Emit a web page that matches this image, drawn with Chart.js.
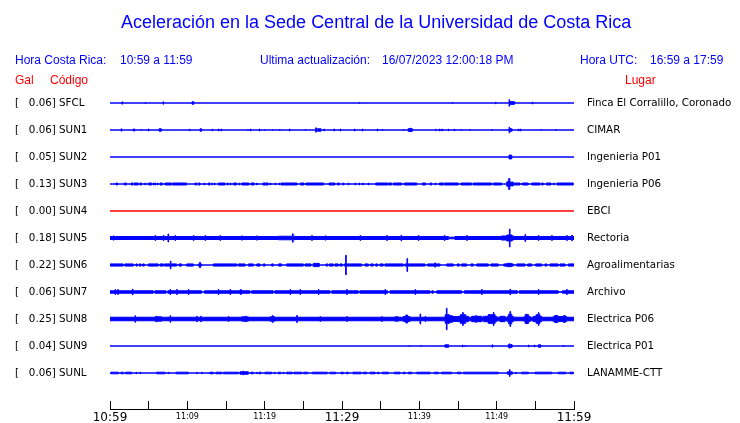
<!DOCTYPE html>
<html>
<head>
<meta charset="utf-8">
<script src="https://cdn.jsdelivr.net/npm/chart.js@4.4.0/dist/chart.umd.min.js"></script>
<style>
  body { margin: 0; background: #fff; }
  #wrap { position: relative; width: 740px; height: 423px; overflow: hidden; }
  #chart { position: absolute; left: 0; top: 0; }
  .t { position: absolute; white-space: pre; font-family: 'Liberation Sans', Arial, sans-serif; line-height: 1; }
  .blue { color: #0000ff; }
  .red { color: #ff0000; }
</style>
</head>
<body>
<div id="wrap">
  <canvas id="chart" width="740" height="423"></canvas>
  <div class="t blue" style="left:121px; top:13px; font-size:18px;">Aceleración en la Sede Central de la Universidad de Costa Rica</div>
  <div class="t blue" style="left:15px; top:54px; font-size:12px;">Hora Costa Rica:</div>
  <div class="t blue" style="left:120px; top:54px; font-size:12px;">10:59 a 11:59</div>
  <div class="t blue" style="left:260px; top:54px; font-size:12px;">Ultima actualización:</div>
  <div class="t blue" style="left:382px; top:54px; font-size:12px;">16/07/2023 12:00:18 PM</div>
  <div class="t blue" style="left:580px; top:54px; font-size:12px;">Hora UTC:</div>
  <div class="t blue" style="left:650px; top:54px; font-size:12px;">16:59 a 17:59</div>
  <div class="t red" style="left:15px; top:74px; font-size:12px;">Gal</div>
  <div class="t red" style="left:50px; top:74px; font-size:12px;">Código</div>
  <div class="t red" style="left:625px; top:74px; font-size:12px;">Lugar</div>
</div>
<script>
// minutos desde las 10:59 (hora Costa Rica)
const tickMinutes = [0, 5, 10, 15, 20, 25, 30, 35, 40, 45, 50, 55, 60];
const tickLabels = ['10:59', '', '11:09', '', '11:19', '', '11:29', '', '11:39', '', '11:49', '', '11:59'];

const codes = ['SFCL', 'SUN1', 'SUN2', 'SUN3', 'SUN4', 'SUN5', 'SUN6', 'SUN7', 'SUN8', 'SUN9', 'SUNL'];
const peakGal = ['0.06', '0.06', '0.05', '0.13', '0.00', '0.18', '0.22', '0.06', '0.25', '0.04', '0.06'];
const places = ['Finca El Corralillo, Coronado', 'CIMAR', 'Ingenieria P01', 'Ingenieria P06', 'EBCI',
  'Rectoria', 'Agroalimentarias', 'Archivo', 'Electrica P06', 'Electrica P01', 'LANAMME-CTT'];

// ruido de fondo (semi-amplitud, fraccion de la separacion entre trazas)
const noise = [0, 0, 0, 0, 0, 0.055, 0, 0.045, 0.065, 0, 0];

// eventos: [minuto, amp] = pico corto, [inicio, fin, amp] = tramo
const sfclEvents = [[1.55, 0.044], [4.55, 0.02], [6.85, 0.044], [10.6, 10.85, 0.044], [32.2, 0.02], [44.25, 0.02],
  [49.85, 0.03], [51.6, 0.12], [51.68, 52.3, 0.05], [54.6, 0.037]];
const sun1Events = [[1.45, 0.044], [3.0, 3.2, 0.037], [4.0, 0.019], [4.95, 0.037], [6.35, 6.65, 0.044], [10.25, 0.03],
  [11.65, 11.85, 0.044], [13.2, 0.03], [14.0, 0.037], [14.35, 0.037], [17.8, 0.019], [18.15, 0.037], [19.3, 0.037],
  [19.95, 0.019], [21.0, 0.019], [21.9, 0.019], [23.2, 0.037], [25.25, 0.019], [26.6, 0.08], [26.8, 27.3, 0.044],
  [27.65, 0.037], [28.95, 0.037], [29.75, 0.037], [31.6, 0.037], [32.6, 0.037], [34.55, 0.037], [35.2, 0.019],
  [37.9, 0.019], [38.55, 39.1, 0.05], [38.8, 0.07], [42.1, 0.03], [42.6, 0.037], [42.9, 0.037], [43.75, 0.03],
  [44.5, 0.03], [45.4, 0.019], [46.5, 0.019], [49.4, 0.019], [51.6, 0.105], [51.68, 52.0, 0.044], [52.8, 0.037],
  [53.05, 0.037], [55.7, 0.019], [57.6, 0.019]];
const sun2Events = [[51.6, 51.95, 0.07]];
const sun3Events = [[0.78, 0.99, .037], [1.85, 2.11, .037], [2.72, 2.97, .037], [3.1, 3.66, .037], [3.88, 4.09, .037],
  [4.5, .037], [4.96, 5.39, .037], [5.6, 5.73, .037], [5.8, .037], [6.1, .037], [6.47, 6.77, .037], [7.11, 7.97, .037],
  [8.1, 9.91, .037], [10.99, 11.21, .037], [11.42, 11.64, .037], [12.15, .037], [12.72, 12.93, .037], [13.15, .037],
  [13.5, .037], [14.01, 14.87, .037], [15.17, 15.3, .037], [15.55, .037], [15.95, 16.38, .037], [16.68, .037],
  [17.03, 17.97, .037], [18.23, 18.66, .037], [18.95, .037], [19.78, 20.47, .037], [20.7, .037], [21.34, .037],
  [21.85, .037], [22.11, 24.18, .037], [24.61, 25.09, .037], [25.34, 27.63, .037], [28.32, 29.09, .037],
  [29.4, 29.66, .037], [30.09, 30.22, .037], [30.8, .037], [31.68, .037], [32.2, .037], [32.67, .037], [33.4, .037],
  [34.35, 35.91, .037], [36.03, 36.42, .037], [36.64, 37.72, .037], [38.06, 39.66, .037], [40.39, 40.82, .037],
  [41.38, 41.59, .037], [42.03, .037], [42.59, 43.1, .037], [43.23, 45.04, .037], [45.39, 46.77, .037],
  [46.98, 49.35, .037], [49.57, 50.65, .037], [51.3, 51.55, .08], [51.55, 51.7, .2], [51.7, 52.16, .07],
  [52.28, 53.02, .037], [53.32, 54.09, .037], [54.53, 55.6, .037], [55.82, 56.03, .037], [56.42, 57.03, .037],
  [57.37, .037], [57.8, 59.91, .037]];
const sun4Events = [];
const sun5Events = [[0.43, 0.08], [5.82, 0.093], [6.9, 0.093], [7.5, 0.15], [8.4, 0.093], [10.78, 0.093], [12.28, 0.093],
  [14.22, 0.093], [17.03, 0.08], [18.97, 0.08], [21.77, 23.92, 0.065], [23.6, 0.156], [26.08, 0.093], [27.8, 0.08],
  [32.33, 0.093], [35.78, 0.093], [37.63, 0.104], [39.87, 0.093], [43.23, 0.093], [43.75, 44.6, 0.03], [46.12, 0.093],
  [50.6, 52.2, 0.075], [51.3, 52.0, 0.11], [51.65, 0.33], [53.66, 0.13], [55.39, 0.093], [57.11, 0.093],
  [59.05, 0.093], [59.7, 0.104]];
const sun6Events = [[0, 1.72, .04], [1.94, 3.02, .04], [3.36, 3.53, .04], [3.79, 4.01, .04], [4.22, 4.44, .04],
  [4.96, 6.25, .04], [6.47, 6.9, .04], [7.03, 7.76, .04], [7.8, .14], [7.97, 8.62, .04], [8.92, 9.27, .04],
  [9.91, 10.78, .04], [11.42, 11.85, .04], [11.6, .104], [13.36, 16.38, .04], [16.59, 17.46, .04], [17.89, 18.53, .04],
  [18.97, 19.4, .04], [19.83, 20.04, .04], [20.9, 21.12, .04], [21.77, 22.2, .04], [22.84, 25.0, .04],
  [25.22, 25.99, .04], [26.29, 27.07, .06], [27.93, 28.15, .04], [28.36, 28.88, .04], [29.09, 29.53, .04],
  [29.74, 30.04, .04], [30.3, 32.54, .04], [30.47, .36], [32.97, 33.41, .04], [33.71, 34.05, .04], [34.35, 34.61, .04],
  [34.91, 35.34, .04], [35.56, 37.93, .04], [38.15, 40.73, .04], [38.4, .24], [41.08, 42.67, .04], [42.0, .08],
  [43.53, 44.4, .04], [44.91, 45.17, .04], [45.47, 46.12, .04], [46.68, 46.98, .04], [47.41, 48.92, .04],
  [49.27, 50.22, .04], [50.91, 52.16, .04], [51.3, 51.94, .06], [52.59, 53.66, .04], [54.0, 54.53, .04],
  [55.04, 55.82, .04], [56.25, 56.47, .04], [56.9, 57.97, .04], [58.19, 58.84, .04], [59.27, 60, .04]];
const sun7Events = [[0.65, 0.093], [1.0, 0.093], [2.89, 0.104], [5.6, 5.8, 0.008], [7.24, 7.46, 0.008], [7.76, 0.093],
  [8.62, 0.093], [10.13, 0.093], [11.85, 12.2, 0.008], [14.0, 0.093], [15.52, 0.093], [16.81, 17.03, 0.08],
  [18.1, 18.3, 0.008], [21.1, 21.3, 0.008], [23.28, 0.093], [24.57, 0.093], [26.94, 0.093], [28.45, 28.66, 0.008],
  [30.6, 0.093], [32.1, 32.3, 0.008], [35.56, 0.093], [35.9, 36.2, 0.008], [39.44, 0.093], [41.38, 41.6, 0.008],
  [41.8, 42.24, 0.008], [45.47, 45.8, 0.008], [48.06, 0.093], [51.72, 0.104], [52.7, 52.93, 0.008], [55.39, 0.093],
  [57.97, 58.5, 0.008], [59.05, 0.093]];
const sun8Events = [[3.23, 0.12], [5.82, 6.68, 0.08], [6.0, 0.104], [7.76, 0.12], [11.2, 0.104], [11.72, 0.104],
  [15.3, 0.093], [17.03, 17.89, 0.08], [17.5, 0.104], [20.69, 21.34, 0.08], [21.0, 0.13], [24.14, 0.13],
  [27.16, 0.093], [30.6, 0.093], [35.13, 0.093], [36.85, 37.28, 0.08], [37.93, 38.79, 0.09], [38.2, 38.5, 0.13],
  [38.35, 0.156], [40.09, 0.185], [40.73, 0.093], [43.3, 45.04, 0.09], [43.35, 43.9, 0.16], [43.5, 0.4],
  [43.9, 44.3, 0.12], [45.04, 46.34, 0.1], [45.3, 46.0, 0.16], [45.6, 0.24], [46.77, 48.06, 0.1], [47.3, 0.13],
  [48.28, 50.0, 0.1], [48.9, 49.8, 0.16], [49.57, 0.24], [50.43, 51.08, 0.1], [51.4, 52.16, 0.1], [51.55, 51.95, 0.18],
  [51.72, 0.28], [53.58, 54.31, 0.1], [53.7, 54.1, 0.17], [54.74, 55.82, 0.1], [55.1, 55.6, 0.16], [55.39, 0.24],
  [57.33, 59.05, 0.09], [57.5, 57.9, 0.13], [58.6, 58.9, 0.12]];
const sun9Events = [[38.7, 0.015], [40.2, 0.02], [43.3, 43.8, 0.044], [45.55, 0.037], [45.9, 0.02], [49.4, 0.044],
  [51.5, 52.0, 0.05], [51.6, 0.08], [54.1, 0.037], [54.87, 0.037], [55.39, 55.7, 0.044], [58.6, 0.019]];
const sunlEvents = [[0.13, 1.08, .03], [1.42, 1.72, .03], [2.03, 2.8, .03], [3.36, .03], [3.88, .03], [6.03, 7.11, .03],
  [7.54, .03], [8.53, 10.13, .03], [11.2, .03], [11.85, .03], [12.93, 13.36, .03], [13.71, 14.44, .03],
  [14.66, 16.59, .03], [16.81, 17.89, .045], [17.2, .067], [18.23, 18.53, .03], [18.97, .03], [19.27, 19.53, .03],
  [20.04, 20.9, .03], [21.25, .03], [21.77, 22.07, .03], [22.41, .03], [22.84, 23.58, .03], [23.79, 24.78, .03],
  [25.04, 25.56, .03], [26.16, 28.1, .03], [28.45, 29.18, .03], [29.87, 30.17, .03], [30.56, 30.82, .03],
  [31.42, 32.46, .03], [32.76, 33.19, .03], [33.62, 34.27, .03], [34.61, 34.78, .03], [35.22, 35.99, .03],
  [36.77, 37.5, .03], [37.93, 38.15, .03], [38.58, 39.01, .03], [39.66, 41.38, .03], [41.94, 42.46, .03],
  [42.89, 44.18, .03], [44.91, 45.39, .03], [45.69, 50.22, .03], [51.38, 52.03, .044], [51.65, .13], [52.46, .03],
  [53.23, 54.09, .03], [54.96, 57.11, .03], [57.97, 58.92, .03], [59.48, 59.91, .03]];

const events = [sfclEvents, sun1Events, sun2Events, sun3Events, sun4Events, sun5Events,
  sun6Events, sun7Events, sun8Events, sun9Events, sunlEvents];

const SPIKE = 0.08;   // duracion de un pico corto, minutos
const BLUE = '#0000ff';
const RED = '#ff0000';

// envolvente escalonada de cada traza
function envelope(i) {
  const bursts = events[i].map(e => e.length === 2 ? [e[0], e[0] + SPIKE, e[1]] : e);
  const cuts = [0, 60];
  bursts.forEach(b => cuts.push(b[0], b[1]));
  const xs = [...new Set(cuts)].filter(x => x >= 0 && x <= 60).sort((a, b) => a - b);
  const pts = [];
  for (let k = 0; k < xs.length - 1; k++) {
    const mid = (xs[k] + xs[k + 1]) / 2;
    const cover = bursts.filter(b => b[0] <= mid && mid < b[1]);
    const a = cover.length ? Math.max(...cover.map(b => b[2])) : noise[i];
    pts.push([xs[k], a]);
  }
  pts.push([60, noise[i]]);
  return pts;
}

const datasets = [];
codes.forEach((code, i) => {
  const env = envelope(i);
  const color = peakGal[i] === '0.00' ? RED : BLUE;
  const common = {
    type: 'line', stepped: true, borderColor: color, backgroundColor: color,
    borderWidth: 1, pointRadius: 0, tension: 0, yAxisID: 'y'
  };
  datasets.push(Object.assign({}, common, {
    label: code, fill: '+1', data: env.map(p => ({ x: p[0], y: i - p[1] }))
  }));
  datasets.push(Object.assign({}, common, {
    label: code + '-', fill: false, data: env.map(p => ({ x: p[0], y: i + p[1] }))
  }));
});

function noEdgePadding(s) {
  s.paddingTop = 0;
  s.paddingBottom = 0;
}

new Chart(document.getElementById('chart'), {
  type: 'line',
  data: { datasets: datasets },
  options: {
    responsive: false,
    animation: false,
    events: [],
    layout: { padding: { left: 15, top: 76, right: 0, bottom: 0 } },
    plugins: { legend: { display: false }, tooltip: { enabled: false }, title: { display: false } },
    scales: {
      x: {
        type: 'linear', min: 0, max: 60,
        afterFit: s => { s.height = 14; },
        afterBuildTicks: s => { s.ticks = tickMinutes.map(v => ({ value: v })); },
        grid: { drawOnChartArea: false, color: '#000', tickLength: -8, lineWidth: 1 },
        border: { color: '#000', width: 1 },
        ticks: {
          autoSkip: false, maxRotation: 0, padding: 10, color: '#000',
          font: c => (c.index % 6 === 0
            ? { family: 'DejaVu Sans', size: 12 }
            : { family: 'DejaVu Sans', size: 8, lineHeight: 1.5 }),
          callback: (v, idx) => tickLabels[idx]
        }
      },
      y: {
        type: 'linear', position: 'left', min: -1, max: 11.3333, reverse: true,
        afterFit: s => { s.width = 95; noEdgePadding(s); },
        afterBuildTicks: s => { s.ticks = codes.map((c, i) => ({ value: i })); },
        grid: { display: false, drawTicks: false },
        border: { display: false },
        ticks: {
          crossAlign: 'far', color: '#000', padding: 0,
          font: { family: 'DejaVu Sans', size: 10.3 },
          callback: (v, idx) => '[   ' + peakGal[idx] + '] ' + codes[idx]
        }
      },
      y2: {
        type: 'linear', position: 'right', min: -1, max: 11.3333, reverse: true,
        afterFit: s => { s.width = 166; noEdgePadding(s); },
        afterBuildTicks: s => { s.ticks = places.map((p, i) => ({ value: i })); },
        grid: { display: false, drawTicks: false },
        border: { display: false },
        ticks: {
          crossAlign: 'near', color: '#000', padding: 13,
          font: { family: 'DejaVu Sans', size: 10.3 },
          callback: (v, idx) => places[idx]
        }
      }
    }
  }
});
</script>
</body>
</html>
